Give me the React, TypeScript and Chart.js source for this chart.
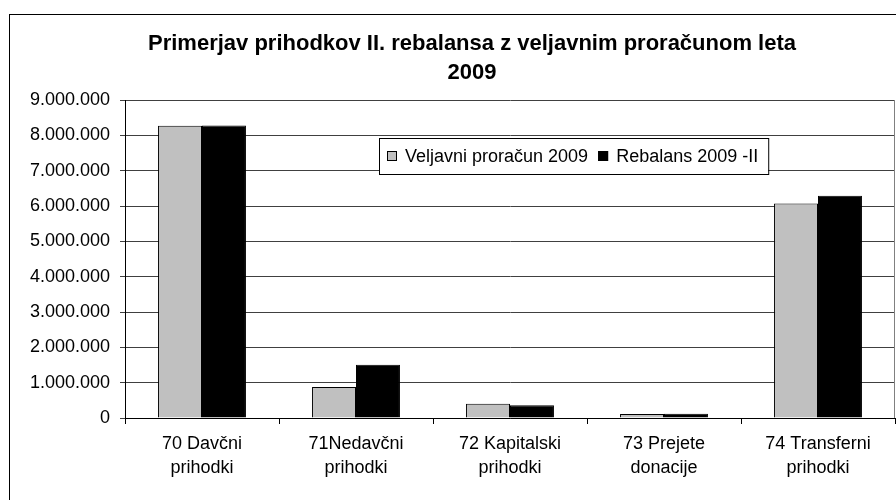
import React, { useEffect, useRef } from "react";
import { Chart, registerables } from "chart.js";

Chart.register(...registerables);

const titleLines = ["Primerjav prihodkov II. rebalansa z veljavnim proračunom leta", "2009"];
const categories = [
  ["70 Davčni", "prihodki"],
  ["71Nedavčni", "prihodki"],
  ["72 Kapitalski", "prihodki"],
  ["73 Prejete", "donacije"],
  ["74 Transferni", "prihodki"],
];
const seriesLabels = ["Veljavni proračun 2009", "Rebalans 2009 -II"];
const veljavni = [8270000, 880000, 400000, 110000, 6070000];
const rebalans = [8280000, 1510000, 360000, 120000, 6290000];
const yMax = 9000000;
const yStep = 1000000;

const FONT = "'Liberation Sans', Arial, sans-serif";

function fmt(v: number): string {
  return String(Math.round(v)).replace(/\B(?=(\d{3})+(?!\d))/g, ".");
}

const decorPlugin = {
  id: "decor",
  beforeDraw(chart: any) {
    const ctx = chart.ctx;
    ctx.save();
    ctx.fillStyle = "#ffffff";
    ctx.fillRect(0, 0, chart.width, chart.height);
    ctx.strokeStyle = "#000000";
    ctx.lineWidth = 1;
    ctx.strokeRect(9.5, 14.5, chart.width + 40, chart.height + 40);
    // title
    ctx.fillStyle = "#000000";
    ctx.font = `bold 22px ${FONT}`;
    ctx.textAlign = "center";
    ctx.textBaseline = "middle";
    ctx.fillText(titleLines[0], 472, 44);
    ctx.fillText(titleLines[1], 472, 73);
    ctx.restore();
  },
  afterDraw(chart: any) {
    const ctx = chart.ctx;
    const area = chart.chartArea;
    ctx.save();
    // plot area right border
    ctx.strokeStyle = "#808080";
    ctx.lineWidth = 1;
    ctx.beginPath();
    ctx.moveTo(Math.round(area.right) - 0.5, area.top);
    ctx.lineTo(Math.round(area.right) - 0.5, area.bottom);
    ctx.stroke();

    // legend box
    ctx.font = `18px ${FONT}`;
    const left = 379;
    const top = 138;
    const h = 36;
    const sq = 10;
    const items = chart.data.datasets.map((d: any) => ({
      label: d.label,
      color: d.backgroundColor,
      w: ctx.measureText(d.label).width,
    }));
    let width = 8;
    items.forEach((it: any, i: number) => {
      width += sq + 8 + it.w + (i < items.length - 1 ? 10 : 10);
    });
    ctx.fillStyle = "#ffffff";
    ctx.fillRect(left, top, width, h);
    ctx.strokeStyle = "#000000";
    ctx.strokeRect(left + 0.5, top + 0.5, width, h);
    let x = left + 8;
    const cy = top + h / 2;
    ctx.textBaseline = "middle";
    ctx.textAlign = "left";
    items.forEach((it: any) => {
      ctx.fillStyle = it.color;
      ctx.fillRect(x, cy - sq / 2, sq, sq);
      ctx.strokeStyle = "#000000";
      ctx.strokeRect(x + 0.5, cy - sq / 2 + 0.5, sq - 1, sq - 1);
      x += sq + 8;
      ctx.fillStyle = "#000000";
      ctx.fillText(it.label, x, cy + 1);
      x += it.w + 10;
    });
    ctx.restore();
  },
};

export default function App() {
  const ref = useRef<HTMLCanvasElement | null>(null);

  useEffect(() => {
    if (!ref.current) return;
    const chart = new Chart(ref.current, {
      type: "bar",
      data: {
        labels: categories,
        datasets: [
          {
            label: seriesLabels[0],
            data: veljavni,
            backgroundColor: "#c0c0c0",
            borderColor: "#000000",
            borderWidth: 1,
            categoryPercentage: 0.571,
            barPercentage: 1.0,
          },
          {
            label: seriesLabels[1],
            data: rebalans,
            backgroundColor: "#000000",
            borderColor: "#000000",
            borderWidth: 1,
            categoryPercentage: 0.571,
            barPercentage: 1.0,
          },
        ],
      },
      options: {
        responsive: false,
        animation: false,
        layout: { padding: { top: 100, right: 1, left: 0, bottom: 0 } },
        plugins: {
          legend: { display: false },
          title: { display: false },
          tooltip: { enabled: false },
        },
        scales: {
          x: {
            afterFit(scale: any) {
              scale.height = 82;
            },
            grid: {
              offset: true,
              drawOnChartArea: false,
              drawTicks: true,
              tickLength: 6,
              color: "#000000",
            },
            border: { color: "#000000" },
            ticks: {
              color: "#000000",
              font: { family: FONT, size: 18, lineHeight: 1.28 },
              padding: 9,
              maxRotation: 0,
              autoSkip: false,
            },
          },
          y: {
            min: 0,
            max: yMax,
            afterFit(scale: any) {
              scale.width = 125;
            },
            grid: {
              color: "#404040",
              tickLength: 5,
              drawTicks: true,
            },
            border: { color: "#000000" },
            ticks: {
              stepSize: yStep,
              color: "#000000",
              font: { family: FONT, size: 18 },
              padding: 10,
              callback: (v: any) => fmt(Number(v)),
            },
          },
        },
      },
      plugins: [decorPlugin],
    });
    return () => chart.destroy();
  }, []);

  return (
    <div style={{ position: "fixed", left: 0, top: 0, width: 896, height: 500 }}>
      <canvas ref={ref} width={896} height={500} />
    </div>
  );
}
